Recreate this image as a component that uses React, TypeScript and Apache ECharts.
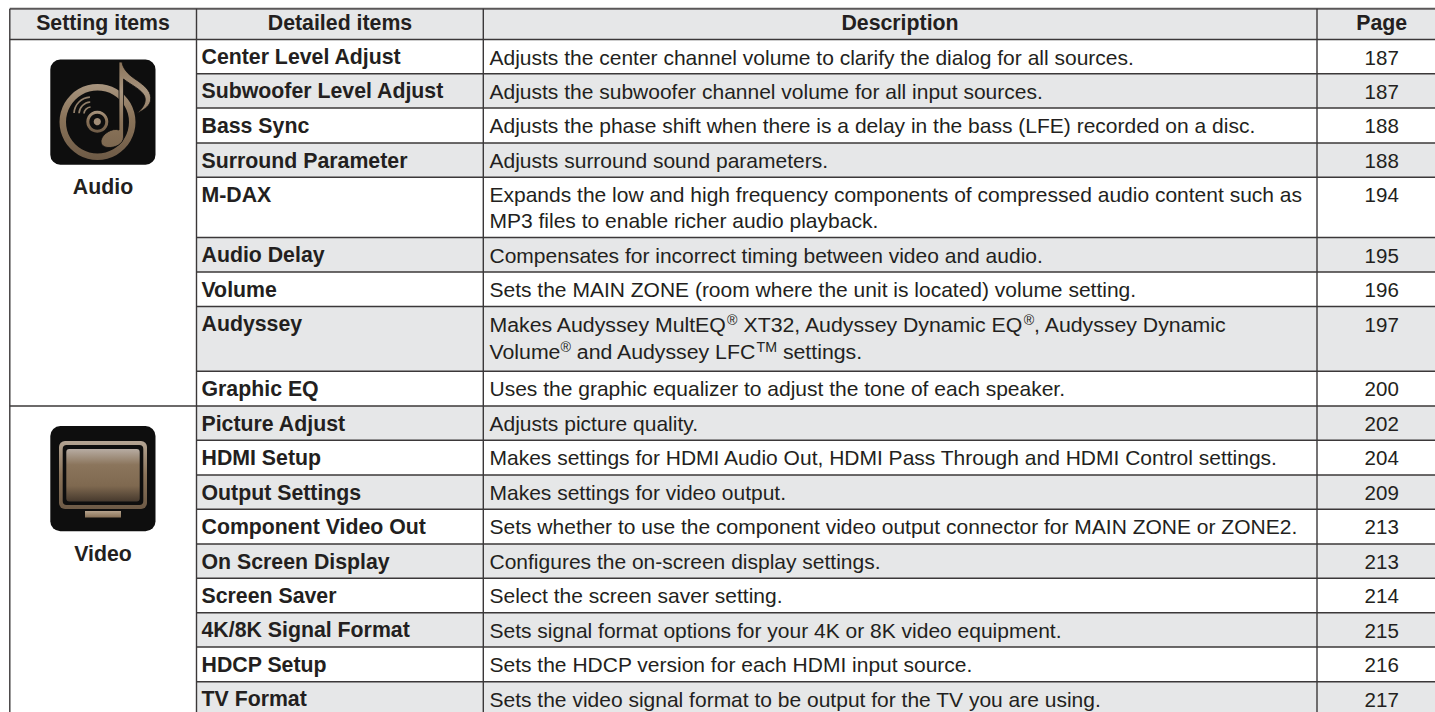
import React, { useEffect, useRef } from "react";
import * as echarts from "echarts";

const headers = ["Setting items", "Detailed items", "Description", "Page"];
const groups = ["Audio", "Video"];
const detailItems = [
  "Center Level Adjust", "Subwoofer Level Adjust", "Bass Sync", "Surround Parameter", "M-DAX",
  "Audio Delay", "Volume", "Audyssey", "Graphic EQ", "Picture Adjust", "HDMI Setup",
  "Output Settings", "Component Video Out", "On Screen Display", "Screen Saver",
  "4K/8K Signal Format", "HDCP Setup", "TV Format",
];
const descriptions = [
  ["Adjusts the center channel volume to clarify the dialog for all sources."],
  ["Adjusts the subwoofer channel volume for all input sources."],
  ["Adjusts the phase shift when there is a delay in the bass (LFE) recorded on a disc."],
  ["Adjusts surround sound parameters."],
  ["Expands the low and high frequency components of compressed audio content such as", "MP3 files to enable richer audio playback."],
  ["Compensates for incorrect timing between video and audio."],
  ["Sets the MAIN ZONE (room where the unit is located) volume setting."],
  ["Makes Audyssey MultEQ{s|®} XT32, Audyssey Dynamic EQ{s|®}, Audyssey Dynamic", "Volume{s|®} and Audyssey LFC{s|TM} settings."],
  ["Uses the graphic equalizer to adjust the tone of each speaker."],
  ["Adjusts picture quality."],
  ["Makes settings for HDMI Audio Out, HDMI Pass Through and HDMI Control settings."],
  ["Makes settings for video output."],
  ["Sets whether to use the component video output connector for MAIN ZONE or ZONE2."],
  ["Configures the on-screen display settings."],
  ["Select the screen saver setting."],
  ["Sets signal format options for your 4K or 8K video equipment."],
  ["Sets the HDCP version for each HDMI input source."],
  ["Sets the video signal format to be output for the TV you are using."],
];
const pages = ["187", "187", "188", "188", "194", "195", "196", "197", "200", "202", "204", "209", "213", "213", "214", "215", "216", "217"];

// layout
const rowEdges = [39.5, 73.7, 108, 143, 177.3, 237.5, 272, 306.5, 371.3, 406, 440.3, 475, 509.3, 544, 578.3, 612.8, 647, 681.7, 716];
const colX = [9.8, 196.5, 483.3, 1317, 1446];
const headTop = 8.7;
const FONT = "Liberation Sans, Arial, Helvetica, sans-serif";
const INK = "#231f20";
const SHADE = "#e6e7e8";
const RULE = "#3b3839";
const BOLD_SIZE = 21.3;
const BODY_SIZE = 21;
const PAGE_SIZE = 20.5;

const NOTE =
  "M119 62 L122 62 C123 70 130 76 138 81 C146 87 152 92 150.5 101 C149 107 142 111 137 113.5 C143 108 147 102 144.5 96 C141 89 131 85 123.5 79 L123.5 137 C123.5 144 115 148 108 147.5 C102 147 100 143 101.5 139 C103 134 112 127.5 119 130 Z";
echarts.graphic.registerShape("note", echarts.graphic.extendPath(NOTE, {}));

const grad = (stops: [number, string][]) => ({
  type: "linear", x: 0, y: 0, x2: 0, y2: 1,
  colorStops: stops.map(([offset, color]) => ({ offset, color })),
});

const bronze = grad([[0, "#a8957f"], [0.45, "#8a7359"], [1, "#6d5a46"]]);

function hLine(x1: number, x2: number, y: number, lineWidth = 1.4, stroke = RULE) {
  return { type: "line", shape: { x1, y1: y, x2, y2: y }, style: { stroke, lineWidth } };
}
function vLine(x: number, y1: number, y2: number, lineWidth = 1.4, stroke = RULE) {
  return { type: "line", shape: { x1: x, y1, x2: x, y2 }, style: { stroke, lineWidth } };
}
function txt(text: string, x: number, y: number, bold: boolean, align = "left", size = BODY_SIZE, scaleX = 1) {
  return {
    type: "text", x, y, scaleX,
    style: {
      text, fill: INK,
      fontFamily: FONT, fontSize: size, fontWeight: bold ? "bold" : "normal",
      align, verticalAlign: "middle",
      rich: {
        s: { fontSize: 14, fontFamily: FONT, fill: INK, verticalAlign: "top", lineHeight: 12, height: 12 },
      },
    },
  };
}

function audioIcon() {
  const arc = (r: number) => ({
    type: "arc",
    shape: { cx: 91, cy: 114, r, startAngle: Math.PI * 1.02, endAngle: Math.PI * 1.48 },
    style: { stroke: "#93806b", lineWidth: 1.7, fill: "none" },
  });
  return [
    { type: "rect", shape: { x: 50.3, y: 59.6, width: 105.2, height: 105.2, r: 10 }, style: { fill: "#0e0e0e" } },
    { type: "ring", shape: { cx: 97.5, cy: 122, r: 38, r0: 31.5 }, style: { fill: bronze } },
    { type: "ring", shape: { cx: 97.3, cy: 121.7, r: 11, r0: 8 }, style: { fill: bronze } },
    { type: "circle", shape: { cx: 97.3, cy: 121.7, r: 3.6 }, style: { fill: "#a08c76" } },
    arc(7), arc(12), arc(17),
    {
      type: "note",
      style: { fill: grad([[0, "#8a7359"], [0.35, "#a8957f"], [0.7, "#8a7359"], [1, "#7d6850"]]), stroke: "#0e0e0e", lineWidth: 0.8 },
    },
  ];
}

function videoIcon() {
  return [
    { type: "rect", shape: { x: 50.3, y: 426, width: 105.2, height: 105.2, r: 10 }, style: { fill: "#0e0e0e" } },
    { type: "rect", shape: { x: 59, y: 441, width: 88, height: 68, r: 6 }, style: { fill: grad([[0, "#b3a493"], [0.5, "#8a7359"], [1, "#6d5a46"]]) } },
    { type: "rect", shape: { x: 62.7, y: 445, width: 80.6, height: 60, r: 4 }, style: { fill: "#0e0e0e" } },
    {
      type: "rect", shape: { x: 66.3, y: 449, width: 73.4, height: 52.6, r: 3 },
      style: { fill: grad([[0, "#b7aca2"], [0.3, "#8b755c"], [0.7, "#7f6950"], [1, "#46392d"]]) },
    },
    { type: "rect", shape: { x: 85, y: 511, width: 36, height: 6.4 }, style: { fill: grad([[0, "#b5a28c"], [1, "#8a7359"]]) } },
  ];
}

function buildGraphic() {
  const els: any[] = [];
  els.push({ type: "rect", shape: { x: colX[0], y: headTop, width: 1435 - colX[0], height: rowEdges[0] - headTop }, style: { fill: SHADE } });
  const shaded = [1, 3, 5, 7, 9, 11, 13, 15, 17];
  shaded.forEach((i) => {
    els.push({ type: "rect", shape: { x: colX[1], y: rowEdges[i], width: 1435 - colX[1], height: rowEdges[i + 1] - rowEdges[i] }, style: { fill: SHADE } });
  });
  els.push(hLine(colX[0], 1435, headTop, 2, "#5a5758"));
  els.push(hLine(colX[0], 1435, rowEdges[0]));
  rowEdges.slice(1, -1).forEach((y, i) => {
    const full = i + 1 === 9;
    els.push(hLine(full ? colX[0] : colX[1], 1435, y));
  });
  colX.slice(0, 4).forEach((x) => els.push(vLine(x, headTop, 712)));
  const cx = [103, 340, 900, 1381.7];
  headers.forEach((h, i) => els.push(txt(h, cx[i], 23.3, true, "center", BOLD_SIZE)));
  detailItems.forEach((name, i) => {
    const top = rowEdges[i];
    const y = top + 17.5;
    els.push(txt(name, 201.5, y, true, "left", BOLD_SIZE));
    const lines = descriptions[i];
    const hasSup = lines.length > 1 && lines[0].includes("{s|");
    lines.forEach((line, k) => {
      const y0 = hasSup ? top + 18.5 : y;
      els.push(txt(line, 489.5, y0 + k * (hasSup ? 27 : 25.5), false, "left", BODY_SIZE, hasSup ? 1.013 : 1));
    });
    els.push(txt(pages[i], 1381.7, y, false, "center", PAGE_SIZE));
  });
  els.push(...audioIcon(), txt(groups[0], 103, 186.5, true, "center", BOLD_SIZE));
  els.push(...videoIcon(), txt(groups[1], 103, 554, true, "center", BOLD_SIZE));
  return els;
}

export default function App() {
  const ref = useRef<HTMLDivElement>(null);
  useEffect(() => {
    const chart = echarts.init(ref.current!, null, { renderer: "svg" });
    chart.setOption({ animation: false, backgroundColor: "#ffffff", graphic: { elements: buildGraphic() } });
    return () => chart.dispose();
  }, []);
  return <div ref={ref} style={{ position: "fixed", left: 0, top: 0, width: 1435, height: 712 }} />;
}
